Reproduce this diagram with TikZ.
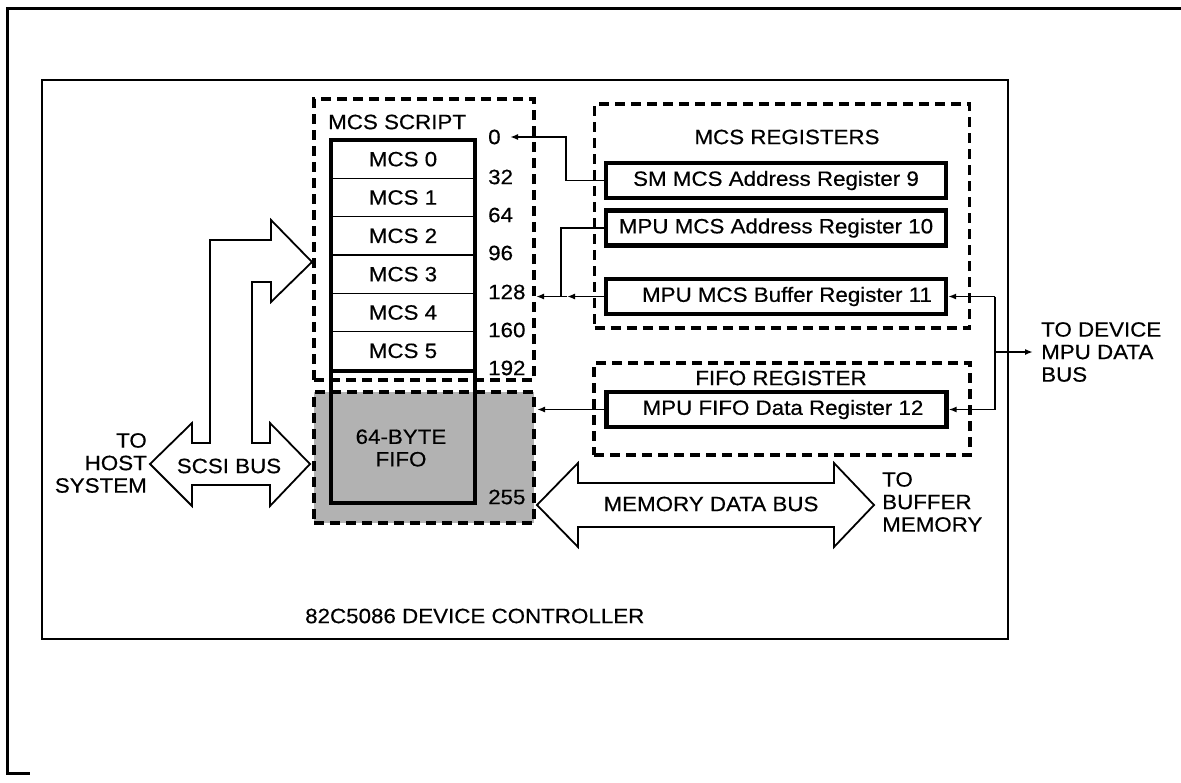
\documentclass[tikz,border=0pt]{standalone}
\usepackage{fontspec}
\setmainfont{Liberation Sans}[FakeStretch=1.08,FakeBold=0.4]
\usetikzlibrary{arrows.meta}
\begin{document}
\begin{tikzpicture}[x=1pt,y=-1pt,
  lbl/.style={font=\fontsize{20.7}{22.5}\selectfont, inner sep=0pt},
  regbox/.style={draw, line width=4.2pt, minimum width=340pt, minimum height=35pt, inner sep=0pt, font=\fontsize{20.7}{22.5}\selectfont},
  cellbox/.style={draw, line width=1.6pt, minimum width=144pt, minimum height=38.33pt, inner sep=0pt, font=\fontsize{20.7}{22.5}\selectfont},
  dbox/.style={draw, line width=3.2pt, dash pattern=on 10pt off 6pt, inner sep=0pt},
  conn/.style={line width=1.6pt},
  tip/.style={-{Latex[length=8pt,width=6pt]}},
  busarrow/.style={draw, fill=white, line width=1.8pt, line join=miter}]
\fill[white] (0,0) rectangle (1181,782);
\useasboundingbox (0,0) rectangle (1181,782);
% outer frame
\draw[line width=3pt] (1181,8) -- (7,8) -- (7,773) -- (30,773);
% controller box
\node[draw, line width=1.8pt, minimum width=966pt, minimum height=559pt, inner sep=0pt] (ctrl) at (525,359.5) {};
\node[lbl, anchor=west] (ctrlname) at (305,616) {82C5086 DEVICE CONTROLLER};
% FIFO area (shaded) and MCS script area
\node[dbox, fill=black!30, minimum width=220pt, minimum height=131pt] (fifobox) at (424,457.5) {};
\node[dbox, minimum width=220pt, minimum height=281pt] (scriptbox) at (424,239.5) {};
\node[lbl, anchor=west] (scripttitle) at (328,122) {MCS SCRIPT};
% MCS cells
\node[cellbox, fill=white] (m0) at (403,159.17) {MCS 0};
\node[cellbox, fill=white] (m1) at (403,197.5) {MCS 1};
\node[cellbox, fill=white] (m2) at (403,235.83) {MCS 2};
\node[cellbox, fill=white] (m3) at (403,274.17) {MCS 3};
\node[cellbox, fill=white] (m4) at (403,312.5) {MCS 4};
\node[cellbox, fill=white] (m5) at (403,350.83) {MCS 5};
\node[draw, line width=4pt, minimum width=144pt, minimum height=363pt, inner sep=0pt] (col) at (403,321.5) {};
\draw[line width=4pt] (m5.south west) -- (m5.south east);
\node[lbl, align=center] (fifotxt) at (401,448) {64-BYTE\\FIFO};
% address labels
\node[lbl, anchor=west] (n0) at (488,137) {0};
\node[lbl, anchor=west] (n32) at (488,177) {32};
\node[lbl, anchor=west] (n64) at (488,215) {64};
\node[lbl, anchor=west] (n96) at (488,253) {96};
\node[lbl, anchor=west] (n128) at (488,292) {128};
\node[lbl, anchor=west] (n160) at (488,330) {160};
\node[lbl, anchor=west] (n192) at (488,368) {192};
\node[lbl, anchor=west] (n255) at (488,497) {255};
% register groups
\node[dbox, minimum width=375pt, minimum height=224pt] (regsbox) at (782,216) {};
\node[lbl] (regtitle) at (787,137) {MCS REGISTERS};
\node[regbox] (r9) at (776,180.5) {SM MCS Address Register 9};
\node[regbox] (r10) at (776,228) {MPU MCS Address Register 10};
\node[regbox] (r11) at (776,296.5) {\hspace*{22pt}MPU MCS Buffer Register 11};
\node[dbox, minimum width=376pt, minimum height=92pt] (fiforegbox) at (782,409) {};
\node[lbl] (fifotitle) at (781,378) {FIFO REGISTER};
\node[regbox] (r12) at (776.5,409.5) {\hspace*{13pt}MPU FIFO Data Register 12};
% connectors
\coordinate (k9) at (566,137);
\coordinate (a0) at (510,137);
\coordinate (j11) at (561,296.5);
\coordinate (h11) at (567,296.5);
\coordinate (a128) at (536,296.5);
\coordinate (afifo) at (537,409.5);
\coordinate (b11) at (995,296.5);
\coordinate (b12) at (995,409.5);
\coordinate (bout) at (995,352);
\coordinate (aout) at (1033,352);
\draw[conn, tip] (r9.west) -| (k9) -- (a0);
\draw[conn] (r10.west) -| (j11);
\draw[conn, tip] (r11.west) -- (h11);
\draw[conn, tip] (h11) -- (a128);
\draw[conn, tip] (r12.west) -- (afifo);
\draw[conn] (b11) -- (b12);
\draw[conn, tip] (b11) -- (r11.east);
\draw[conn, tip] (b12) -- (r12.east);
\draw[conn, tip] (bout) -- (aout);
\node[lbl, anchor=west, align=left] (devtxt) at (1041,352) {TO DEVICE\\MPU DATA\\BUS};
% SCSI bus block arrow
\draw[busarrow] (150,464) -- (192,423) -- (192,443) -- (210,443) -- (210,240) -- (271,240) -- (271,220) -- (312,262) -- (271,302) -- (271,282) -- (252,282) -- (252,443) -- (270,443) -- (270,423) -- (310,464) -- (270,506) -- (270,485) -- (192,485) -- (192,506) -- cycle;
\node[lbl] (scsi) at (229,466) {SCSI BUS};
\node[lbl, anchor=east, align=right] (host) at (147,463) {TO\\HOST\\SYSTEM};
% memory data bus block arrow
\draw[busarrow] (537,505) -- (578,463) -- (578,483) -- (834,483) -- (834,463) -- (874,505) -- (834,547) -- (834,527) -- (578,527) -- (578,547) -- cycle;
\node[lbl] (mem) at (711,504) {MEMORY DATA BUS};
\node[lbl, anchor=west, align=left] (buf) at (882,502) {TO\\BUFFER\\MEMORY};
\end{tikzpicture}
\end{document}
